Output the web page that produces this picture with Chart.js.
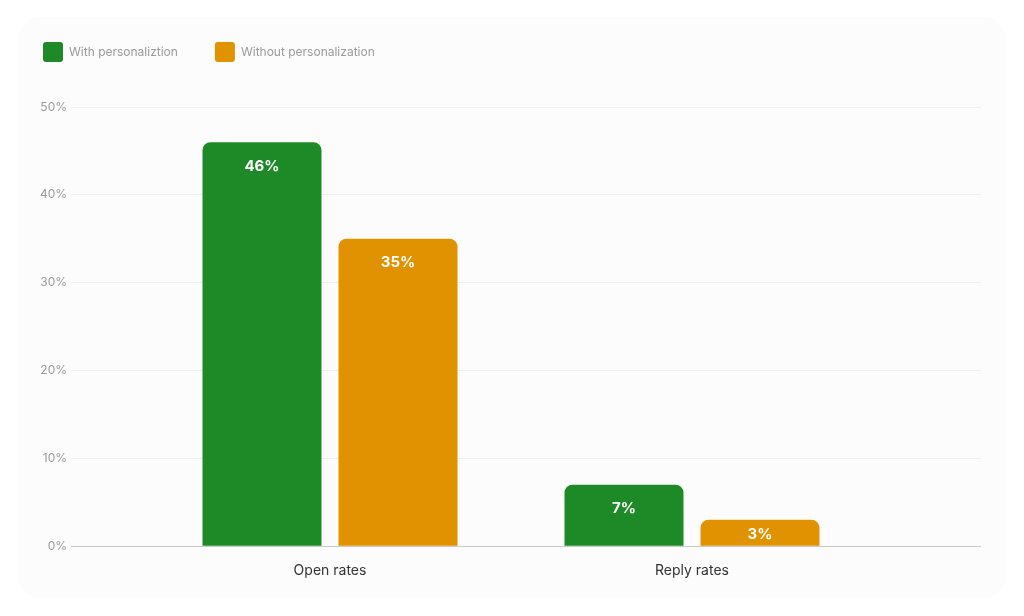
<!DOCTYPE html>
<html>
<head>
<meta charset="utf-8">
<script src="https://cdn.jsdelivr.net/npm/chart.js@4"></script>
<style>
  html, body { margin: 0; padding: 0; background: #ffffff; }
  #card { position: absolute; left: 18px; top: 17px; width: 988px; height: 581px; border-radius: 22px; background: #fcfcfc; }
  #wrap { position: absolute; left: 0; top: 0; width: 1024px; height: 616px; }
</style>
</head>
<body>
<div id="card"></div>
<div id="wrap"><canvas id="rateChart" width="1024" height="616"></canvas></div>
<script>
// chart data
var categories = ['Open rates', 'Reply rates'];
var withPersonalization = [46, 7];
var withoutPersonalization = [35, 3];
var seriesNames = ['With personaliztion', 'Without personalization'];
var yTicks = [0, 10, 20, 30, 40, 50];

var green = '#1d8a27';
var orange = '#e19200';

// extra room under the legend
var legendMargin = {
    id: 'legendMargin',
    beforeInit: function (chart) {
        var fit = chart.legend.fit;
        chart.legend.fit = function () {
            fit.bind(chart.legend)();
            this.height += 35;
        };
    }
};

// value labels inside bars
var barLabels = {
    id: 'barLabels',
    afterDatasetsDraw: function (chart) {
        var ctx = chart.ctx;
        ctx.save();
        ctx.fillStyle = '#ffffff';
        ctx.font = 'bold 15px Inter';
        ctx.textAlign = 'center';
        ctx.textBaseline = 'middle';
        chart.data.datasets.forEach(function (ds, i) {
            chart.getDatasetMeta(i).data.forEach(function (bar, j) {
                var h = bar.base - bar.y;
                ctx.fillText(ds.data[j] + '%', bar.x, bar.y + Math.min(24, h / 2 + 2));
            });
        });
        ctx.restore();
    }
};

var gridColor = function (c) {
    return c.tick && c.tick.value === 0 ? '#c9c9c9' : '#efefef';
};

var ctx = document.getElementById('rateChart').getContext('2d');
new Chart(ctx, {
    type: 'bar',
    data: {
        labels: categories,
        datasets: [{
            label: seriesNames[0],
            data: withPersonalization,
            backgroundColor: green,
            borderWidth: 0,
            borderRadius: { topLeft: 8, topRight: 8 },
            borderSkipped: false,
            categoryPercentage: 0.7514,
            barPercentage: 0.875
        }, {
            label: seriesNames[1],
            data: withoutPersonalization,
            backgroundColor: orange,
            borderWidth: 0,
            borderRadius: { topLeft: 8, topRight: 8 },
            borderSkipped: false,
            categoryPercentage: 0.7514,
            barPercentage: 0.875
        }]
    },
    options: {
        responsive: false,
        animation: false,
        layout: { padding: { left: 6, right: 43, top: 5, bottom: 29 } },
        plugins: {
            tooltip: { enabled: false },
            legend: {
                align: 'start',
                labels: {
                    boxWidth: 20,
                    boxHeight: 20,
                    padding: 37,
                    useBorderRadius: true,
                    borderRadius: 3,
                    color: '#9a9a9a',
                    font: { family: 'Inter', size: 12 }
                }
            }
        },
        scales: {
            x: {
                grid: { display: false },
                border: { display: false },
                ticks: { color: '#333333', padding: 8, font: { family: 'Inter', size: 14 } }
            },
            y: {
                position: 'left',
                min: yTicks[0],
                max: yTicks[yTicks.length - 1],
                afterBuildTicks: function (s) { s.ticks = yTicks.map(function (v) { return { value: v }; }); },
                afterFit: function (s) { s.width = 143; },
                border: { display: false },
                grid: { color: gridColor, tickColor: gridColor, tickLength: 78, drawTicks: true },
                ticks: {
                    padding: 4,
                    color: '#9a9a9a',
                    font: { family: 'Inter', size: 12 },
                    callback: function (v) { return v + '%'; }
                }
            },
            y2: {
                position: 'right',
                min: yTicks[0],
                max: yTicks[yTicks.length - 1],
                afterBuildTicks: function (s) { s.ticks = yTicks.map(function (v) { return { value: v }; }); },
                afterFit: function (s) { s.width = 108; },
                border: { display: false },
                grid: { color: gridColor, tickColor: gridColor, tickLength: 108, drawOnChartArea: false },
                ticks: { display: false }
            }
        }
    },
    plugins: [legendMargin, barLabels]
});
</script>
</body>
</html>
